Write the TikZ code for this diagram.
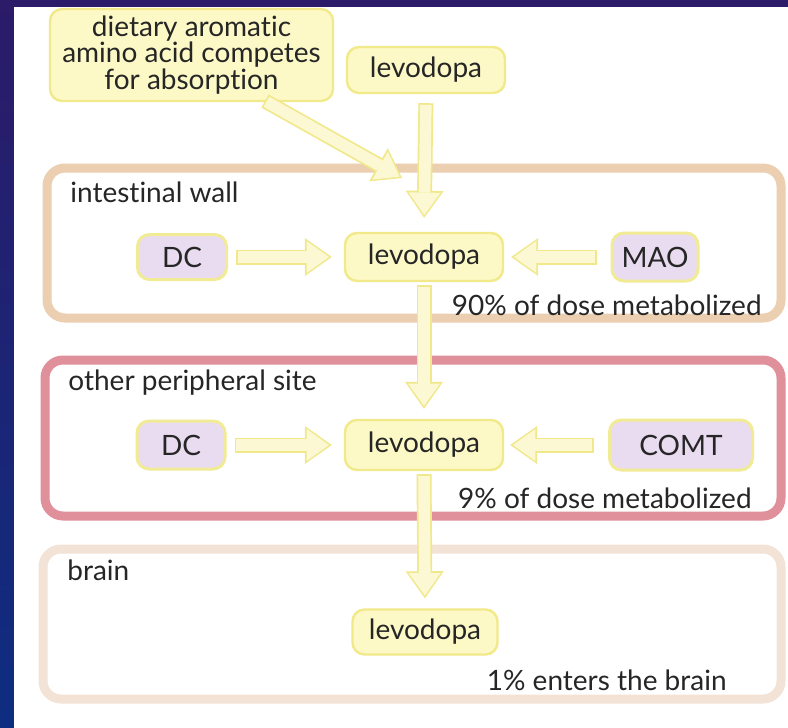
\documentclass[tikz,border=0pt]{standalone}
\usepackage{fontspec}
\setmainfont{Lato}[Ligatures={NoCommon,NoRequired}]
\usepackage{tikz}
\usetikzlibrary{positioning}
\usetikzlibrary{arrows.meta}
\definecolor{ink}{HTML}{262626}
\definecolor{drugfill}{HTML}{FCF9C6}
\definecolor{drugedge}{HTML}{F1E98A}
\definecolor{enzymefill}{HTML}{E9DBF0}
\definecolor{enzymeedge}{HTML}{F2EB96}
\definecolor{arrowedge}{HTML}{F0E88A}
\definecolor{arrowfill}{HTML}{FBF8D3}
\definecolor{wallline}{HTML}{EBCFB0}
\definecolor{periline}{HTML}{E0909B}
\definecolor{brainline}{HTML}{F3E3D7}
\definecolor{bgtop}{HTML}{2B1B69}
\definecolor{bgbot}{HTML}{0E2D80}
\tikzstyle{drug}=[draw=drugedge, fill=drugfill, line width=1.2pt, rounded corners=6pt, align=center, text=ink]
\tikzstyle{enzyme}=[draw=enzymeedge, fill=enzymefill, line width=1.5pt, rounded corners=6pt, text=ink]
\tikzstyle{site}=[line width=4.5pt, rounded corners=9pt]
\tikzstyle{sitename}=[anchor=west, inner sep=0pt, text=ink]
\tikzstyle{remark}=[anchor=east, inner sep=0pt, text=ink]
\tikzset{flow/.style 2 args={line width=7.5pt, draw=arrowedge, shorten <=#1, shorten >=#2,
    -{Triangle[length=13.5pt, width=19pt, line width=0pt]},
    postaction={draw=arrowfill, line width=5.8pt, shorten <={#1+0.8pt}, shorten >={#2+1.4pt},
      -{Triangle[length=11.2pt, width=16pt, line width=0pt]}}}}

\begin{document}
\begin{tikzpicture}[x=0.5pt, y=-0.5pt, font=\fontsize{14}{15}\selectfont]
      \useasboundingbox (0,0) rectangle (788,728);
      \fill[top color=bgtop, bottom color=bgbot] (0,0) rectangle (788,728);
      \fill[white] (14,7) rectangle (788,728);

      % sites
      \draw[site, draw=wallline] (47,168) rectangle (781,318);
      \draw[site, draw=periline] (45,360) rectangle (781,516);
      \draw[site, draw=brainline] (43,549) rectangle (781,699);
      \node[sitename] (wallname) at (70,192) {intestinal wall};
      \node[sitename] (periname) at (68,383) {other peripheral site};
      \node[sitename] (brainname) at (67,570) {brain};

      \node[drug, minimum width=141.5pt, minimum height=43pt, font=\fontsize{14}{13.3}\selectfont] (diet) at (191.5,55) {dietary aromatic\\amino acid competes\\for absorption};
      \node[drug, minimum width=79pt, minimum height=23pt] (levA) at (426,70) {levodopa};
      \node[enzyme, minimum width=44.5pt, minimum height=22.5pt] (dcA) at (182,257) {DC};
      \node[drug, minimum width=79pt, minimum height=24pt] (levB) at (424,257) {levodopa};
      \node[enzyme, minimum width=43pt, minimum height=24pt] (mao) at (655,257) {MAO};
      \node[enzyme, minimum width=44pt, minimum height=24pt] (dcB) at (181,445) {DC};
      \node[drug, minimum width=79pt, minimum height=25pt] (levC) at (424,445) {levodopa};
      \node[enzyme, minimum width=71.5pt, minimum height=25pt] (comt) at (681,445) {COMT};
      \node[drug, minimum width=72.5pt, minimum height=22.5pt] (levD) at (425,632) {levodopa};

      \node[remark] (lossA) at (762,305) {90\% of dose metabolized};
      \node[remark] (lossB) at (752,498) {9\% of dose metabolized};
      \node[remark] (gain) at (727,680) {1\% enters the brain};

      \coordinate (dietfoot) at (265,101);
      \coordinate (merge) at (402,178);

      \draw[flow={0pt}{0pt}] (dietfoot) -- (merge);
      \draw[flow={4.5pt}{7pt}] (levA.south) -- (levB.north);
      \draw[flow={4pt}{6pt}] (dcA.east) -- (levB.west);
      \draw[flow={7pt}{3.5pt}] (mao.west) -- (levB.east);
      \draw[flow={1.5pt}{5pt}] (levB.south) -- (levC.north);
      \draw[flow={4pt}{6pt}] (dcB.east) -- (levC.west);
      \draw[flow={7pt}{3pt}] (comt.west) -- (levC.east);
      \draw[flow={1.5pt}{5pt}] (levC.south) -- (levD.north);

    \end{tikzpicture}
\end{document}
